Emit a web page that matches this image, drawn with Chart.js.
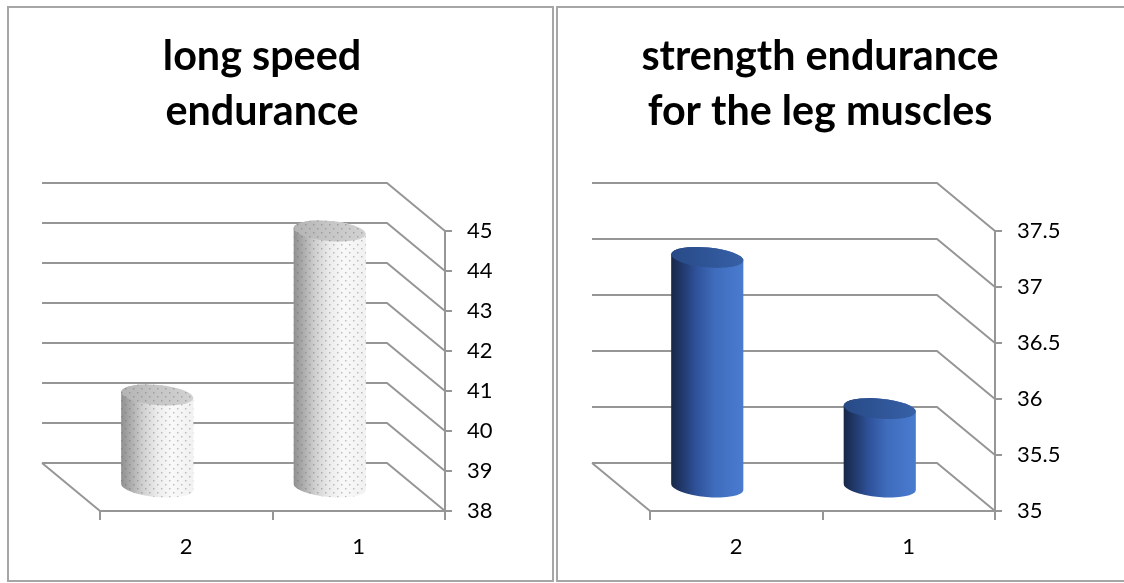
<!DOCTYPE html>
<html>
<head>
<meta charset="utf-8">
<title>Endurance indicators</title>
<script src="https://cdn.jsdelivr.net/npm/chart.js@4.4.1/dist/chart.umd.min.js"></script>
<style>
  html, body { margin: 0; padding: 0; background: #ffffff; width: 1124px; height: 583px; overflow: hidden; }
  .panel { position: absolute; top: 6px; height: 576px; box-sizing: border-box; border: 2px solid #a6a6a6; }
  #panelLeft { left: 7px; width: 547px; }
  #panelRight { left: 556px; width: 580px; }
  canvas { position: absolute; top: 7px; }
  #speedChart { left: 8px; }
  #strengthChart { left: 556px; }
</style>
</head>
<body>
<div class="panel" id="panelLeft"></div>
<div class="panel" id="panelRight"></div>
<canvas id="speedChart" width="544" height="574"></canvas>
<canvas id="strengthChart" width="568" height="574"></canvas>
<script>
// ---- data ----
const categories = ['2', '1'];

const speedTitle = ['long speed', 'endurance'];
const speedValues = [40.3, 44.4];
const speedTicks = [38, 39, 40, 41, 42, 43, 44, 45];

const strengthTitle = ['strength endurance', 'for the leg muscles'];
const strengthValues = [37.05, 35.7];
const strengthTicks = [35, 35.5, 36, 36.5, 37, 37.5];

// ---- look ----
const FONT = "Lato, 'Open Sans', 'Liberation Sans', sans-serif";
const LINE = '#969696';
const DEPTH = { dx: 58, dy: 48 };   // offset of the back wall from the front plane

// title size chosen so the widest title line spans about 357px
const probe = document.createElement('canvas').getContext('2d');
probe.font = 'bold 100px ' + FONT;
const TITLE_SIZE = Math.round(100 * 357 / probe.measureText('strength endurance').width * 10) / 10;

// dotted fill used on the grey cylinders
function dotPattern(ctx) {
  const tile = document.createElement('canvas');
  tile.width = 8; tile.height = 8;
  const t = tile.getContext('2d');
  t.fillStyle = 'rgba(95, 95, 120, 0.38)';
  t.fillRect(1, 1, 1.5, 1.5);
  t.fillRect(5, 5, 1.5, 1.5);
  return ctx.createPattern(tile, 'repeat');
}

function hGradient(ctx, x0, x1, stops) {
  const g = ctx.createLinearGradient(x0, 0, x1, 0);
  stops.forEach(([o, c]) => g.addColorStop(o, c));
  return g;
}

const SKINS = {
  dots: {
    body: [[0, '#8f8f8f'], [0.12, '#a9a9a9'], [0.3, '#d0d0d0'], [0.5, '#ececec'], [0.7, '#f9f9f9'], [1, '#f1f1f1']],
    cap: [[0, '#b3b3b3'], [0.5, '#c6c6c6'], [1, '#d2d2d2']],
    dotted: true
  },
  blue: {
    body: [[0, '#172746'], [0.12, '#1f3563'], [0.35, '#2f529a'], [0.6, '#3f6cbc'], [0.85, '#4676c9'], [1, '#4a7bcf']],
    cap: [[0, '#284a86'], [0.5, '#2f5597'], [1, '#3760a6']],
    dotted: false
  }
};

// back wall, side wall and floor edges, then the cylinders themselves
const cylinder3d = {
  id: 'cylinder3d',
  beforeDatasetsDraw(chart) {
    const { ctx, chartArea: a, scales: { y } } = chart;
    ctx.save();
    ctx.strokeStyle = LINE;
    ctx.lineWidth = 2;
    y.ticks.forEach(t => {
      const py = y.getPixelForValue(t.value);
      ctx.beginPath();
      ctx.moveTo(a.left - DEPTH.dx, py - DEPTH.dy);
      ctx.lineTo(a.right - DEPTH.dx, py - DEPTH.dy);
      ctx.lineTo(a.right, py);
      ctx.stroke();
    });
    ctx.beginPath();
    ctx.moveTo(a.left - DEPTH.dx, a.bottom - DEPTH.dy);
    ctx.lineTo(a.left, a.bottom);
    ctx.stroke();
    ctx.restore();
  },
  afterDatasetsDraw(chart, args, opts) {
    const { ctx, scales: { y } } = chart;
    const skin = SKINS[opts.skin];
    const pattern = skin.dotted ? dotPattern(ctx) : null;
    const floor = y.getPixelForValue(y.min);
    const meta = chart.getDatasetMeta(0);
    meta.data.forEach(bar => {
      const cx = bar.x - DEPTH.dx / 2;
      const top = bar.y - DEPTH.dy / 2;
      const bot = floor - DEPTH.dy / 2;
      const rx = bar.width / 2, ry = opts.ry, rot = opts.tilt;
      ctx.save();
      // body
      ctx.beginPath();
      ctx.ellipse(cx, top, rx, ry, rot, Math.PI, 0, false);
      ctx.ellipse(cx, bot, rx, ry, rot, 0, Math.PI, false);
      ctx.closePath();
      ctx.fillStyle = hGradient(ctx, cx - rx, cx + rx, skin.body);
      ctx.fill();
      if (pattern) { ctx.fillStyle = pattern; ctx.fill(); }
      // top cap
      ctx.beginPath();
      ctx.ellipse(cx, top, rx, ry, rot, 0, Math.PI * 2);
      ctx.fillStyle = hGradient(ctx, cx - rx, cx + rx, skin.cap);
      ctx.fill();
      if (pattern) { ctx.fillStyle = pattern; ctx.fill(); }
      ctx.restore();
    });
  }
};

function makeChart(canvasId, title, values, ticks, geo, skin) {
  return new Chart(document.getElementById(canvasId), {
    type: 'bar',
    data: {
      labels: categories,
      datasets: [{
        data: values,
        yAxisID: 'y',
        backgroundColor: 'rgba(0,0,0,0)',
        borderWidth: 0,
        barPercentage: 0.42,
        categoryPercentage: 1
      }]
    },
    options: {
      responsive: false,
      animation: false,
      events: [],
      layout: { padding: { left: 0, right: geo.padRight, top: 0, bottom: 0 } },
      plugins: {
        legend: { display: false },
        tooltip: { enabled: false },
        title: {
          display: true,
          text: title,
          color: '#000000',
          font: { family: FONT, size: TITLE_SIZE, weight: 'bold', lineHeight: 55 / TITLE_SIZE },
          padding: { top: 22, bottom: 92 }
        },
        cylinder3d: { skin: skin, ry: 10, tilt: 0.09 }
      },
      scales: {
        depth: {
          type: 'linear',
          position: 'left',
          grid: { display: false },
          border: { display: false },
          ticks: { display: false },
          afterFit: s => { s.width = geo.depthRoom; }
        },
        x: {
          grid: { drawOnChartArea: false, drawTicks: true, tickLength: 9, color: LINE, lineWidth: 2 },
          border: { color: LINE, width: 2 },
          ticks: { color: '#000000', font: { family: FONT, size: 22 }, padding: 14 },
          afterFit: s => { s.height = 70; }
        },
        y: {
          position: 'right',
          min: ticks[0],
          max: ticks[ticks.length - 1],
          afterBuildTicks: s => { s.ticks = ticks.map(v => ({ value: v })); },
          grid: { drawOnChartArea: false, drawTicks: true, tickLength: 7, color: LINE, lineWidth: 2 },
          border: { color: LINE, width: 2 },
          ticks: { color: '#000000', font: { family: FONT, size: 22 }, padding: 15, callback: v => String(v) },
          afterFit: s => { s.width = geo.axisRoom; }
        }
      }
    },
    plugins: [cylinder3d]
  });
}

makeChart('speedChart', speedTitle, speedValues, speedTicks,
  { padRight: 36, depthRoom: 92, axisRoom: 71 }, 'dots');
makeChart('strengthChart', strengthTitle, strengthValues, strengthTicks,
  { padRight: 40, depthRoom: 94, axisRoom: 89 }, 'blue');
</script>
</body>
</html>
